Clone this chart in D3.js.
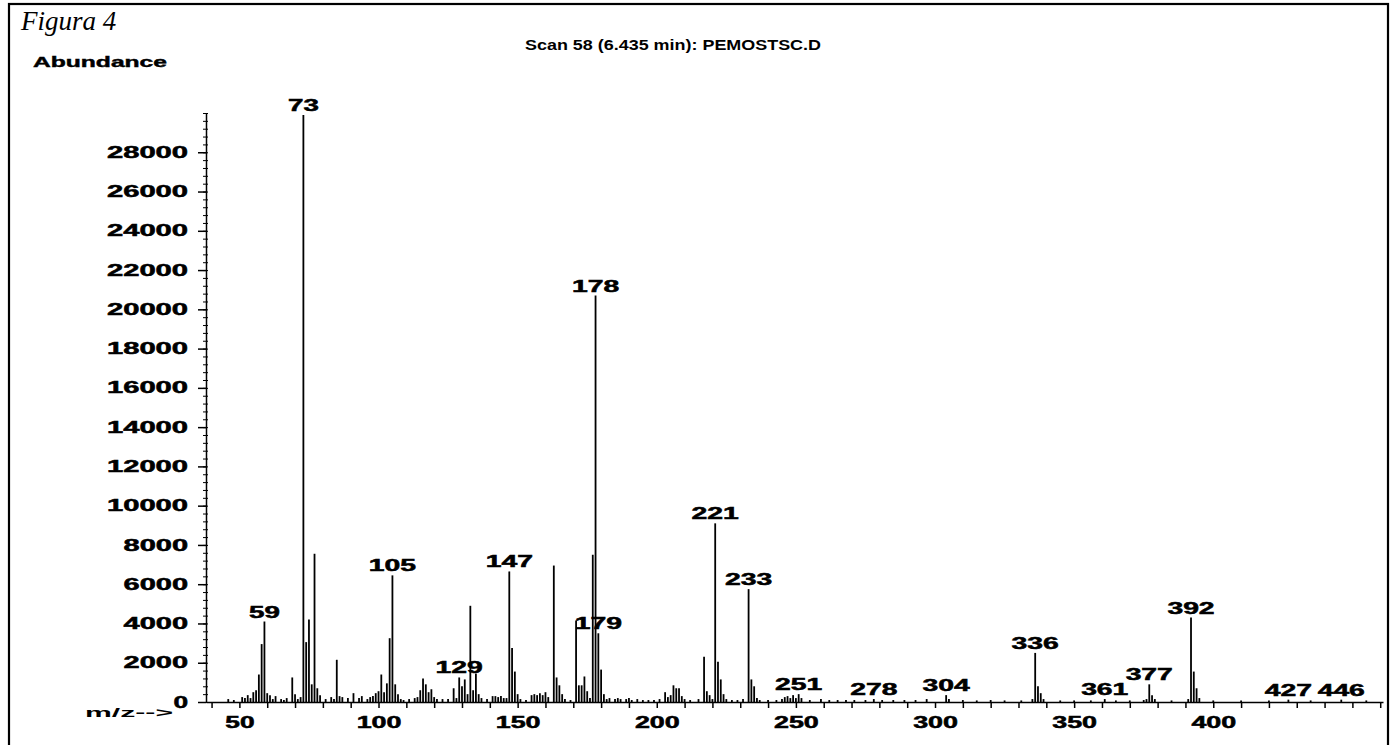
<!DOCTYPE html>
<html lang="es">

<head>
    <meta charset="UTF-8">
    <title>Figura 4</title>
    <style>
        body { margin: 0; background: #fff; }
        text { fill: #000; }
    </style>
</head>

<body>
    <svg id="spectrum"></svg>
    <script src="https://cdn.jsdelivr.net/npm/d3@7/dist/d3.min.js"></script>
    <script type="text/javascript">
        // m/z and abundance
        const mzValues = [46, 48, 51, 52, 53, 54, 55, 56, 57, 58, 59, 60, 61, 62, 63, 65, 66, 67, 69, 70,
            71, 72, 73, 74, 75, 76, 77, 78, 79, 81, 83, 84, 85, 86, 87, 89, 91, 93, 94, 96,
            97, 98, 99, 100, 101, 102, 103, 104, 105, 106, 107, 108, 109, 111, 113, 114, 115, 116, 117, 118,
            119, 120, 121, 123, 125, 127, 128, 129, 130, 131, 132, 133, 134, 135, 136, 137, 139, 141, 142, 143,
            144, 145, 146, 147, 148, 149, 150, 151, 153, 155, 156, 157, 158, 159, 160, 161, 163, 164, 165, 166,
            167, 169, 171, 172, 173, 174, 175, 176, 177, 178, 179, 180, 181, 182, 183, 185, 186, 187, 189, 190,
            191, 193, 195, 197, 199, 201, 203, 204, 205, 206, 207, 208, 209, 210, 212, 215, 217, 218, 219, 220,
            221, 222, 223, 224, 225, 227, 229, 231, 233, 234, 235, 236, 237, 240, 243, 245, 246, 247, 248, 249,
            250, 251, 252, 255, 259, 262, 265, 268, 271, 275, 278, 281, 285, 289, 293, 297, 304, 305, 310, 315,
            320, 325, 331, 335, 336, 337, 338, 339, 345, 350, 356, 361, 365, 370, 375, 376, 377, 378, 379, 385,
            391, 392, 393, 394, 395, 400, 410, 420, 427, 435, 446, 455];
        const abundances = [150, 100, 250, 200, 350, 200, 500, 600, 1400, 2950, 4100, 450, 350, 150, 300, 150, 100, 200, 1250, 400,
            150, 250, 29900, 3050, 4200, 900, 7550, 700, 350, 150, 250, 150, 2150, 300, 250, 200, 450, 200, 300, 150,
            250, 300, 450, 550, 1400, 500, 950, 3250, 6450, 900, 400, 150, 100, 150, 200, 250, 600, 1200, 900, 500,
            650, 250, 150, 150, 150, 700, 200, 1250, 800, 1150, 400, 4900, 600, 1450, 400, 200, 150, 300, 300, 250,
            300, 200, 200, 6650, 2750, 1550, 400, 150, 100, 350, 400, 350, 450, 350, 500, 250, 6950, 1250, 850, 400,
            150, 100, 4150, 850, 850, 1300, 550, 200, 7500, 20700, 3500, 1650, 400, 150, 200, 150, 200, 150, 150, 200,
            100, 150, 100, 100, 100, 150, 500, 250, 350, 850, 700, 700, 300, 150, 100, 150, 2300, 550, 350, 150,
            9100, 2050, 1150, 400, 150, 100, 100, 150, 5750, 1150, 800, 200, 100, 100, 100, 150, 250, 300, 200, 350,
            200, 400, 200, 100, 150, 100, 100, 100, 100, 100, 150, 100, 100, 100, 100, 150, 350, 150, 100, 80,
            100, 80, 80, 150, 2500, 800, 450, 150, 80, 80, 80, 150, 80, 80, 100, 150, 900, 350, 150, 80,
            150, 4300, 1550, 700, 200, 80, 80, 80, 120, 80, 120, 80];
        // peaks that carry a label
        const peakLabels = [59, 73, 105, 129, 147, 178, 179, 221, 233, 251, 278, 304, 336, 361, 377, 392, 427, 446];
        const yTicks = [0, 2000, 4000, 6000, 8000, 10000, 12000, 14000, 16000, 18000, 20000, 22000, 24000, 26000, 28000];
        const xTickLabels = [50, 100, 150, 200, 250, 300, 350, 400];

        window.onload = function () {
            drawSpectrum();
        }

        function drawSpectrum() {
            const width = 1390;
            const height = 745;
            const margin = { top: 113, right: 7, bottom: 43, left: 206 };

            let svg = d3.select('#spectrum').attr('width', width).attr('height', height);

            // outer frame
            svg.append('rect')
                .attr('x', 9).attr('y', 4)
                .attr('width', 1379).attr('height', 770)
                .attr('fill', 'none').attr('stroke', '#000').attr('stroke-width', 2.2);

            svg.append('text')
                .attr('x', 21).attr('y', 30)
                .style('font-family', '"Liberation Serif", "DejaVu Serif", serif')
                .style('font-style', 'italic')
                .style('font-size', '27px')
                .text('Figura 4');

            svg.append('text')
                .attr('x', 525).attr('y', 50)
                .style('font-family', '"Liberation Sans", Arial, sans-serif')
                .style('font-weight', 'bold').style('font-size', '14px')
                .attr('textLength', 296).attr('lengthAdjust', 'spacingAndGlyphs')
                .text('Scan 58 (6.435 min): PEMOSTSC.D');

            svg.append('text')
                .attr('x', 33).attr('y', 67)
                .style('font-family', '"Liberation Sans", Arial, sans-serif')
                .style('font-weight', 'bold').style('font-size', '14px')
                .style('stroke', '#000').style('stroke-width', 0.4)
                .attr('textLength', 134).attr('lengthAdjust', 'spacingAndGlyphs')
                .text('Abundance');

            let x = d3.scaleLinear()
                .domain([38, 461])
                .range([margin.left, width - margin.right]);
            let y = d3.scaleLinear()
                .domain([0, 30000])
                .range([height - margin.bottom, margin.top]);

            const baseY = y(0);

            // stretch digits so they look like the wide plotter font
            function widen(sel, perChar) {
                sel.style('font-family', '"Liberation Sans", Arial, sans-serif')
                    .style('font-weight', 'bold')
                    .style('font-size', '16px')
                    .style('stroke', '#000')
                    .style('stroke-width', 0.5)
                    .attr('lengthAdjust', 'spacingAndGlyphs')
                    .attr('textLength', function () {
                        const n = this.textContent.length;
                        return n ? n * perChar - 2 : null;
                    });
            }

            // y axis: minor then major ticks
            svg.append('g')
                .attr('transform', 'translate(' + (margin.left + 2) + ',0)')
                .call(d3.axisLeft(y).tickValues(d3.range(0, 30001, 400)).tickSize(5).tickFormat(''))
                .call(g => g.select('.domain').remove());

            let yAxis = svg.append('g')
                .attr('transform', 'translate(' + margin.left + ',0)')
                .call(d3.axisLeft(y).tickValues(yTicks).tickSize(8).tickPadding(10).tickSizeOuter(0)
                    .tickFormat(d3.format('d')));
            yAxis.selectAll('text').call(widen, 16.6);
            yAxis.selectAll('line, path').attr('stroke', '#000').attr('stroke-width', 1.5);

            // x axis, tick every 10, label every 50
            let xAxis = svg.append('g')
                .attr('transform', 'translate(0,' + baseY + ')')
                .call(d3.axisBottom(x).tickValues(d3.range(40, 461, 10)).tickSize(6).tickPadding(9).tickSizeOuter(0)
                    .tickFormat(d => xTickLabels.includes(d) ? d : ''));
            xAxis.selectAll('text').call(widen, 15.6);
            xAxis.selectAll('line, path').attr('stroke', '#000').attr('stroke-width', 1.5);

            svg.append('text')
                .attr('x', 85).attr('y', 717)
                .style('font-family', '"Liberation Sans", Arial, sans-serif')
                .style('font-weight', 'bold').style('font-size', '13px')
                .attr('textLength', 88).attr('lengthAdjust', 'spacingAndGlyphs')
                .text('m/z-->');

            // spectrum sticks
            const peaks = mzValues.map((m, i) => ({ mz: m, ab: abundances[i] }));
            svg.append('g')
                .selectAll('line')
                .data(peaks)
                .enter()
                .append('line')
                .attr('x1', d => x(d.mz)).attr('x2', d => x(d.mz))
                .attr('y1', baseY).attr('y2', d => y(d.ab))
                .attr('stroke', '#000')
                .attr('stroke-width', 1.8);

            // labels above the labelled peaks
            const labelled = peaks.filter(d => peakLabels.includes(d.mz));
            svg.append('g')
                .selectAll('text')
                .data(labelled)
                .enter()
                .append('text')
                .attr('x', d => x(d.mz))
                .attr('y', d => y(d.ab) - 4)
                .attr('text-anchor', 'middle')
                .text(d => d.mz)
                .call(widen, 16.4);
        }
    </script>
</body>

</html>
